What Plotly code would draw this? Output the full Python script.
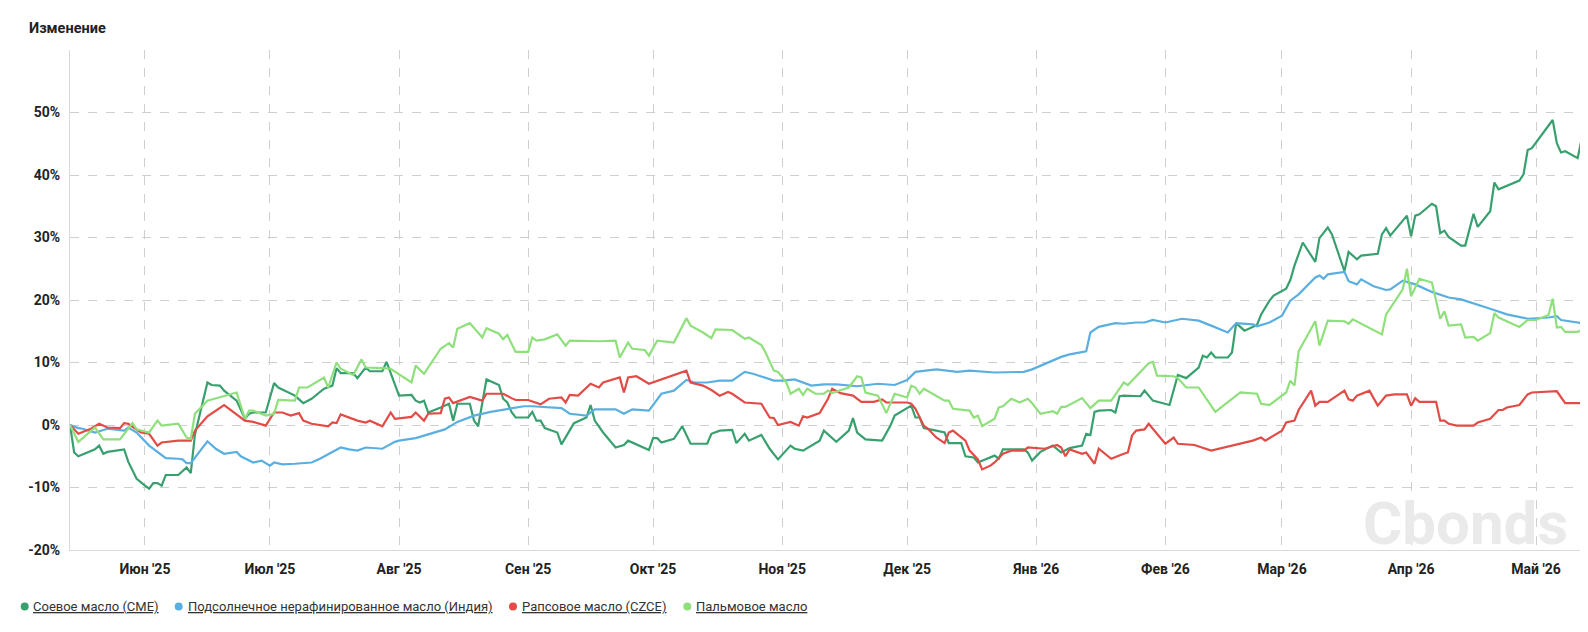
import plotly.graph_objects as go

# ---------------- data ----------------
series_names = ["Соевое масло (CME)", "Подсолнечное нерафинированное масло (Индия)",
                "Рапсовое масло (CZCE)", "Пальмовое масло"]
series_colors = ["#38a06f", "#5aafe0", "#e24b46", "#8fe07c"]

month_ticks = ["2025-06-01", "2025-07-01", "2025-08-01", "2025-09-01", "2025-10-01", "2025-11-01",
               "2025-12-01", "2026-01-01", "2026-02-01", "2026-03-01", "2026-04-01", "2026-05-01"]
month_labels = ["Июн '25", "Июл '25", "Авг '25", "Сен '25", "Окт '25", "Ноя '25",
                "Дек '25", "Янв '26", "Фев '26", "Мар '26", "Апр '26", "Май '26"]
y_ticks = [-20, -10, 0, 10, 20, 30, 40, 50, 60]
y_labels = ["-20%", "-10%", "0%", "10%", "20%", "30%", "40%", "50%", ""]

soy_dates = ["2025-05-14","2025-05-15","2025-05-16","2025-05-19","2025-05-20","2025-05-21","2025-05-22","2025-05-23",
 "2025-05-27","2025-05-28","2025-05-30","2025-06-01","2025-06-02","2025-06-03","2025-06-04","2025-06-05","2025-06-06",
 "2025-06-09","2025-06-11","2025-06-12","2025-06-13","2025-06-16","2025-06-17","2025-06-19","2025-06-20","2025-06-23",
 "2025-06-25","2025-06-26","2025-06-27","2025-06-30","2025-07-02","2025-07-03","2025-07-07","2025-07-09","2025-07-11",
 "2025-07-14","2025-07-16","2025-07-17","2025-07-18","2025-07-21","2025-07-22","2025-07-24","2025-07-25","2025-07-28",
 "2025-07-29","2025-08-01","2025-08-04","2025-08-05","2025-08-06","2025-08-07","2025-08-08","2025-08-11","2025-08-13",
 "2025-08-14","2025-08-15","2025-08-18","2025-08-19","2025-08-20","2025-08-22","2025-08-25","2025-08-26","2025-08-27",
 "2025-08-28","2025-08-29","2025-09-01","2025-09-02","2025-09-03","2025-09-04","2025-09-05","2025-09-08","2025-09-09",
 "2025-09-12","2025-09-15","2025-09-16","2025-09-17","2025-09-19","2025-09-22","2025-09-24","2025-09-25","2025-09-30",
 "2025-10-01","2025-10-02","2025-10-03","2025-10-06","2025-10-08","2025-10-10","2025-10-14","2025-10-15","2025-10-17",
 "2025-10-20","2025-10-21","2025-10-23","2025-10-24","2025-10-27","2025-10-29","2025-10-31","2025-11-03","2025-11-04",
 "2025-11-06","2025-11-10","2025-11-11","2025-11-14","2025-11-17","2025-11-18","2025-11-19","2025-11-21","2025-11-25",
 "2025-11-27","2025-11-28","2025-12-02","2025-12-03","2025-12-04","2025-12-05","2025-12-08","2025-12-10","2025-12-11",
 "2025-12-14","2025-12-15","2025-12-17","2025-12-18","2025-12-22","2025-12-23","2025-12-24","2025-12-29","2025-12-30",
 "2025-12-31","2026-01-02","2026-01-05","2026-01-07","2026-01-09","2026-01-12","2026-01-13","2026-01-14","2026-01-15",
 "2026-01-16","2026-01-19","2026-01-20","2026-01-21","2026-01-22","2026-01-26","2026-01-27","2026-01-29","2026-02-02",
 "2026-02-04","2026-02-06","2026-02-09","2026-02-10","2026-02-11","2026-02-12","2026-02-13","2026-02-16","2026-02-17",
 "2026-02-18","2026-02-20","2026-02-23","2026-02-24","2026-02-26","2026-02-27","2026-03-02","2026-03-03","2026-03-04",
 "2026-03-06","2026-03-09","2026-03-10","2026-03-12","2026-03-13","2026-03-16","2026-03-17","2026-03-19","2026-03-20",
 "2026-03-24","2026-03-25","2026-03-26","2026-03-27","2026-03-31","2026-04-01","2026-04-02","2026-04-03","2026-04-06",
 "2026-04-07","2026-04-08","2026-04-09","2026-04-10","2026-04-13","2026-04-14","2026-04-16","2026-04-17","2026-04-20",
 "2026-04-21","2026-04-22","2026-04-27","2026-04-28","2026-04-29","2026-04-30","2026-05-05","2026-05-06","2026-05-07",
 "2026-05-08","2026-05-11","2026-05-12","2026-05-13"]
soy_vals = [0,-4.4,-5.0,-4.1,-3.9,-3.3,-4.6,-4.3,
 -3.9,-5.9,-8.6,-9.7,-10.2,-9.3,-9.3,-9.7,-8.0,
 -8.0,-6.8,-7.7,-1.5,6.8,6.4,6.3,5.5,3.9,
 1.0,1.8,2.0,2.0,6.7,6.0,4.7,3.5,4.2,
 5.8,6.3,9.1,8.3,8.3,7.5,9.2,8.6,8.6,
 10.1,4.7,4.8,3.9,3.6,3.9,2.0,2.8,3.4,
 0.7,3.4,3.4,0.7,-0.2,7.3,6.4,4.2,3.6,
 2.1,1.2,1.2,2.1,0.7,0.7,-0.5,-1.2,-3.1,
 0.3,1.2,3.2,0.7,-1.2,-3.6,-3.2,-2.5,-4.0,
 -2.1,-2.1,-2.8,-2.2,-0.2,-3.0,-3.0,-1.4,-0.9,
 -0.8,-2.9,-1.4,-2.5,-1.6,-3.8,-5.5,-3.3,-3.8,
 -4.1,-2.5,-0.9,-2.7,-0.9,1.1,-1.2,-2.3,-2.5,
 -0.1,1.5,3.1,1.2,1.2,-0.5,-0.9,-1.2,-2.9,
 -2.9,-5.0,-5.2,-6.0,-4.9,-5.4,-3.9,-3.9,-4.4,
 -5.7,-4.3,-3.3,-4.4,-3.7,-3.3,-1.4,-1.6,2.1,
 2.3,2.4,2.0,4.6,4.7,4.6,5.5,3.9,3.2,
 8.0,7.5,9.2,11.1,10.8,11.6,10.8,10.8,11.6,
 16.3,15.1,16.0,17.7,19.9,20.7,21.8,23.2,25.5,
 29.2,26.1,29.9,31.6,30.5,24.6,27.7,26.5,27.1,
 27.4,30.5,31.5,30.3,33.5,30.2,33.5,33.7,35.4,
 35.0,30.7,31.1,30.1,28.7,28.7,33.8,31.7,34.2,
 38.8,37.7,39.1,40.1,44.0,44.3,48.8,45.1,43.6,
 43.8,42.7,45.9,43.9]

sun_dates = ["2025-05-14","2025-05-16","2025-05-17","2025-05-20","2025-05-23","2025-05-27","2025-05-28","2025-05-30",
 "2025-06-02","2025-06-03","2025-06-06","2025-06-09","2025-06-10","2025-06-11","2025-06-12","2025-06-16","2025-06-18",
 "2025-06-20","2025-06-23","2025-06-24","2025-06-27","2025-06-29","2025-07-01","2025-07-02","2025-07-04","2025-07-07",
 "2025-07-11","2025-07-13","2025-07-16","2025-07-18","2025-07-20","2025-07-22","2025-07-24","2025-07-26","2025-07-28",
 "2025-07-31","2025-08-01","2025-08-05","2025-08-10","2025-08-12","2025-08-15","2025-08-19","2025-08-23","2025-08-27",
 "2025-08-31","2025-09-02","2025-09-09","2025-09-11","2025-09-15","2025-09-17","2025-09-22","2025-09-24","2025-09-26",
 "2025-09-30","2025-10-03","2025-10-06","2025-10-09","2025-10-11","2025-10-14","2025-10-17","2025-10-20","2025-10-23",
 "2025-10-25","2025-10-30","2025-11-01","2025-11-04","2025-11-08","2025-11-11","2025-11-14","2025-11-19","2025-11-24",
 "2025-11-28","2025-12-01","2025-12-03","2025-12-08","2025-12-13","2025-12-16","2025-12-22","2025-12-29","2025-12-31",
 "2026-01-02","2026-01-07","2026-01-09","2026-01-13","2026-01-14","2026-01-16","2026-01-20","2026-01-22","2026-01-25",
 "2026-01-27","2026-01-29","2026-02-01","2026-02-05","2026-02-09","2026-02-12","2026-02-16","2026-02-18","2026-02-22",
 "2026-02-23","2026-02-26","2026-03-01","2026-03-03","2026-03-05","2026-03-07","2026-03-09","2026-03-10","2026-03-11",
 "2026-03-12","2026-03-16","2026-03-17","2026-03-19","2026-03-20","2026-03-23","2026-03-26","2026-03-27","2026-03-30",
 "2026-04-02","2026-04-06","2026-04-10","2026-04-13","2026-04-16","2026-04-20","2026-04-24","2026-04-29","2026-05-04",
 "2026-05-06","2026-05-07","2026-05-12","2026-05-13"]
sun_vals = [0,-0.5,-0.6,-1.2,-0.6,-0.9,-0.4,-1.2,
 -3.3,-3.8,-5.3,-5.4,-5.5,-6.1,-6.1,-2.6,-3.8,
 -4.6,-4.3,-5.0,-6.0,-5.7,-6.5,-6.0,-6.3,-6.2,
 -6.0,-5.4,-4.4,-3.6,-3.9,-4.1,-3.6,-3.7,-3.8,
 -2.7,-2.5,-2.1,-1.1,-0.7,0.5,1.5,2.1,2.6,
 3.0,3.0,2.7,1.8,1.5,2.5,2.5,1.8,2.5,
 2.3,5.0,5.5,7.2,6.8,6.8,7.1,7.1,8.5,
 8.2,7.1,7.1,7.3,6.3,6.5,6.5,6.2,6.6,
 6.4,7.2,8.5,8.9,8.5,8.7,8.4,8.5,8.9,
 9.5,10.9,11.3,11.8,14.8,15.7,16.3,16.2,16.4,
 16.4,16.8,16.4,17.0,16.7,15.9,14.8,16.3,16.1,
 15.8,16.4,17.5,19.9,20.9,22.2,23.6,23.9,23.4,
 24.1,24.5,23.0,22.5,23.3,22.2,21.6,21.7,23.1,
 22.5,21.3,20.4,20.1,19.5,18.6,17.7,17.0,17.2,
 17.4,16.8,16.4,16.2]

rape_dates = ["2025-05-14","2025-05-16","2025-05-19","2025-05-21","2025-05-23","2025-05-26","2025-05-27","2025-05-28",
 "2025-05-31","2025-06-02","2025-06-04","2025-06-05","2025-06-09","2025-06-12","2025-06-13","2025-06-16","2025-06-20",
 "2025-06-25","2025-06-27","2025-06-30","2025-07-02","2025-07-04","2025-07-06","2025-07-08","2025-07-09","2025-07-11",
 "2025-07-15","2025-07-16","2025-07-17","2025-07-18","2025-07-22","2025-07-24","2025-07-25","2025-07-28","2025-07-30",
 "2025-07-31","2025-08-04","2025-08-05","2025-08-07","2025-08-08","2025-08-11","2025-08-12","2025-08-13","2025-08-14",
 "2025-08-18","2025-08-21","2025-08-22","2025-08-26","2025-08-28","2025-08-29","2025-09-01","2025-09-04","2025-09-06",
 "2025-09-09","2025-09-10","2025-09-11","2025-09-13","2025-09-16","2025-09-18","2025-09-19","2025-09-23","2025-09-24",
 "2025-09-25","2025-09-27","2025-09-30","2025-10-09","2025-10-10","2025-10-13","2025-10-15","2025-10-17","2025-10-19",
 "2025-10-20","2025-10-23","2025-10-27","2025-10-29","2025-10-30","2025-10-31","2025-11-03","2025-11-05","2025-11-06",
 "2025-11-07","2025-11-10","2025-11-12","2025-11-13","2025-11-15","2025-11-18","2025-11-20","2025-11-23","2025-11-25",
 "2025-11-26","2025-12-01","2025-12-02","2025-12-03","2025-12-05","2025-12-06","2025-12-08","2025-12-10","2025-12-11",
 "2025-12-12","2025-12-15","2025-12-16","2025-12-18","2025-12-19","2025-12-21","2025-12-22","2025-12-24","2025-12-26",
 "2025-12-29","2025-12-30","2026-01-03","2026-01-06","2026-01-07","2026-01-08","2026-01-09","2026-01-12","2026-01-13",
 "2026-01-15","2026-01-16","2026-01-19","2026-01-21","2026-01-22","2026-01-23","2026-01-24","2026-01-25","2026-01-27",
 "2026-01-28","2026-02-01","2026-02-03","2026-02-04","2026-02-08","2026-02-10","2026-02-12","2026-02-22","2026-02-24",
 "2026-02-25","2026-03-01","2026-03-02","2026-03-04","2026-03-05","2026-03-08","2026-03-09","2026-03-10","2026-03-12",
 "2026-03-16","2026-03-17","2026-03-18","2026-03-19","2026-03-22","2026-03-24","2026-03-26","2026-03-28","2026-03-31",
 "2026-04-01","2026-04-02","2026-04-03","2026-04-07","2026-04-08","2026-04-09","2026-04-10","2026-04-12","2026-04-16",
 "2026-04-17","2026-04-20","2026-04-22","2026-04-23","2026-04-24","2026-04-27","2026-04-29","2026-04-30","2026-05-06",
 "2026-05-08","2026-05-12","2026-05-13"]
rape_vals = [0,-1.4,-0.6,0.2,-0.4,-0.5,0.3,0.2,
 -1.2,-1.4,-3.3,-2.8,-2.5,-2.5,-0.9,1.4,3.2,
 0.7,0.5,-0.1,2.0,2.0,1.5,1.9,0.7,0.2,
 -0.2,0.4,0.3,1.7,0.7,0.4,0.7,-0.2,2.0,
 1.0,1.3,2.0,0.7,1.8,1.9,4.2,4.4,3.5,
 4.5,3.9,5.0,5.0,4.3,4.0,4.0,3.3,4.2,
 4.4,3.6,4.8,4.7,6.6,6.0,6.8,7.6,5.2,
 7.6,7.8,6.6,8.7,6.8,6.3,5.6,4.7,5.3,
 5.0,3.6,3.4,1.2,1.1,0.0,0.5,-0.1,1.4,
 1.2,1.9,4.2,5.8,5.1,4.7,3.7,3.7,4.1,
 3.6,3.6,3.4,2.6,-0.1,-0.6,-2.0,-2.9,-1.2,
 -0.9,-2.5,-4.1,-5.5,-7.1,-6.5,-6.0,-4.6,-4.1,
 -4.1,-3.6,-3.8,-3.2,-3.6,-5.0,-3.9,-4.6,-4.4,
 -6.2,-3.8,-5.4,-4.8,-4.6,-4.4,-1.7,-0.9,-0.7,
 0.2,-3.0,-2.0,-3.0,-3.2,-3.6,-4.1,-2.5,-2.0,
 -2.5,-0.9,0.4,0.7,2.4,5.5,3.1,3.7,3.7,
 5.5,4.1,3.9,4.7,5.5,3.1,4.7,4.9,4.9,
 3.1,4.3,3.7,3.7,0.7,0.7,0.2,-0.1,-0.1,
 0.4,1.0,2.4,2.4,2.8,3.2,4.9,5.2,5.4,
 3.5,3.5,2.5]

palm_dates = ["2025-05-14","2025-05-16","2025-05-20","2025-05-22","2025-05-26","2025-05-29","2025-05-30","2025-06-02",
 "2025-06-04","2025-06-05","2025-06-09","2025-06-11","2025-06-12","2025-06-13","2025-06-16","2025-06-20","2025-06-23",
 "2025-06-25","2025-06-26","2025-06-27","2025-06-30","2025-07-02","2025-07-03","2025-07-07","2025-07-08","2025-07-10",
 "2025-07-14","2025-07-15","2025-07-17","2025-07-18","2025-07-21","2025-07-23","2025-07-24","2025-07-28","2025-07-30",
 "2025-08-04","2025-08-05","2025-08-07","2025-08-11","2025-08-13","2025-08-14","2025-08-15","2025-08-18","2025-08-21",
 "2025-08-22","2025-08-25","2025-08-26","2025-08-27","2025-08-29","2025-09-01","2025-09-02","2025-09-03","2025-09-05",
 "2025-09-08","2025-09-10","2025-09-11","2025-09-18","2025-09-22","2025-09-23","2025-09-25","2025-09-26","2025-09-29",
 "2025-09-30","2025-10-02","2025-10-06","2025-10-09","2025-10-10","2025-10-13","2025-10-15","2025-10-16","2025-10-20",
 "2025-10-23","2025-10-24","2025-10-27","2025-10-28","2025-10-30","2025-10-31","2025-11-02","2025-11-03","2025-11-05",
 "2025-11-06","2025-11-07","2025-11-09","2025-11-11","2025-11-12","2025-11-13","2025-11-17","2025-11-19","2025-11-20",
 "2025-11-21","2025-11-24","2025-11-26","2025-11-27","2025-11-28","2025-12-01","2025-12-02","2025-12-03","2025-12-04",
 "2025-12-05","2025-12-08","2025-12-10","2025-12-11","2025-12-12","2025-12-16","2025-12-17","2025-12-18","2025-12-19",
 "2025-12-22","2025-12-23","2025-12-24","2025-12-26","2025-12-28","2025-12-30","2025-12-31","2026-01-02","2026-01-05",
 "2026-01-06","2026-01-07","2026-01-08","2026-01-12","2026-01-14","2026-01-16","2026-01-19","2026-01-21","2026-01-22",
 "2026-01-23","2026-01-28","2026-01-29","2026-01-30","2026-02-03","2026-02-04","2026-02-06","2026-02-09","2026-02-13",
 "2026-02-19","2026-02-23","2026-02-24","2026-02-26","2026-03-02","2026-03-03","2026-03-04","2026-03-05","2026-03-09",
 "2026-03-10","2026-03-12","2026-03-16","2026-03-17","2026-03-18","2026-03-24","2026-03-25","2026-03-26","2026-03-30",
 "2026-03-31","2026-04-01","2026-04-03","2026-04-06","2026-04-08","2026-04-09","2026-04-10","2026-04-13","2026-04-14",
 "2026-04-16","2026-04-17","2026-04-20","2026-04-21","2026-04-22","2026-04-27","2026-04-29","2026-05-01","2026-05-04",
 "2026-05-05","2026-05-06","2026-05-07","2026-05-08","2026-05-11","2026-05-12","2026-05-13"]
palm_vals = [0,-2.7,-0.4,-2.3,-2.3,0.3,-0.7,-1.2,
 0.7,-0.1,0.2,-2.0,-2.2,1.8,3.9,4.7,5.2,
 1.0,2.3,2.3,1.5,1.8,4.0,3.9,6.0,6.0,
 7.6,6.0,10.0,9.0,8.0,10.5,9.2,9.1,9.0,
 6.8,9.5,8.2,12.2,13.1,12.4,15.4,16.3,14.0,
 15.5,14.6,13.7,14.4,11.7,11.7,14.0,13.5,13.7,
 14.5,12.7,13.5,13.4,13.5,10.8,13.2,12.2,12.0,
 11.1,13.5,13.2,17.1,15.9,14.8,13.9,15.3,15.2,
 13.8,14.0,12.8,11.6,8.7,8.5,6.8,5.0,5.8,
 4.8,5.8,5.0,5.0,5.5,5.1,6.0,7.8,7.6,
 5.2,4.7,1.9,3.4,5.0,4.4,6.3,6.0,5.0,
 5.8,4.7,3.9,3.9,2.6,2.3,1.2,1.5,-0.2,
 1.0,2.8,3.0,4.2,3.6,4.2,3.5,1.8,2.2,
 1.8,2.9,2.9,4.3,2.7,3.9,3.9,5.8,6.8,
 6.4,9.9,10.1,7.9,7.8,7.5,6.0,6.0,2.1,
 5.2,5.0,3.4,3.2,5.2,7.1,6.3,11.8,16.6,
 12.7,16.7,16.6,16.2,16.9,14.8,14.5,17.7,21.7,
 25.0,20.6,23.4,22.8,17.0,18.2,15.9,16.1,14.0,
 14.1,13.5,14.7,17.9,17.2,15.7,16.8,16.8,17.6,
 20.2,15.6,15.7,14.9,14.9,15.2,13.2]

series_dates = [soy_dates, sun_dates, rape_dates, palm_dates]
series_vals = [soy_vals, sun_vals, rape_vals, palm_vals]

# ---------------- layout constants ----------------
W, H = 1588, 632
ML, MR, MT, MB = 62, 10, 42, 90
PW, PH = W - ML - MR, H - MT - MB
FONT = "Roboto, 'Noto Sans', sans-serif"


def px_x(px):
    return (px - ML) / PW


def px_y(py):
    return (H - MB - py) / PH


fig = go.Figure()

for name, color, xs, ys in zip(series_names, series_colors, series_dates, series_vals):
    fig.add_trace(go.Scatter(x=xs, y=ys, mode="lines", line=dict(color=color, width=2.2),
                             name=name, showlegend=False, hoverinfo="x+y+name"))

# custom legend (round markers + underlined names)
legend_marker_px = [16.7, 170.7, 505.0, 679.3]
legend_text_px = [23.0, 177.5, 511.5, 685.5]
legend_y_px = 598.5
shapes = []
annotations = []
for name, color, mx, tx in zip(series_names, series_colors, legend_marker_px, legend_text_px):
    shapes.append(dict(type="circle", xref="paper", yref="paper",
                       xsizemode="pixel", ysizemode="pixel",
                       xanchor=px_x(mx), yanchor=px_y(legend_y_px),
                       x0=-4, x1=4, y0=-4, y1=4,
                       fillcolor=color, line=dict(width=0)))
    annotations.append(dict(text=f"<u>{name}</u>", xref="paper", yref="paper",
                            x=px_x(tx), y=px_y(legend_y_px), xanchor="left", yanchor="middle",
                            showarrow=False, font=dict(size=13, color="#333333", family=FONT)))

annotations.append(dict(text="<b>Изменение</b>", xref="paper", yref="paper",
                        x=px_x(19), y=px_y(21), xanchor="left", yanchor="middle", showarrow=False,
                        font=dict(size=14.5, color="#222222", family="Roboto")))
annotations.append(dict(text="<b>Cbonds</b>", xref="paper", yref="paper",
                        x=px_x(1457), y=px_y(515), xanchor="center", yanchor="middle",
                        showarrow=False, font=dict(size=60, color="#eaeaea", family="Roboto")))

grid_color = "#cfcfcf"
fig.update_layout(
    width=W, height=H,
    margin=dict(l=ML, r=MR, t=MT, b=MB, autoexpand=False),
    plot_bgcolor="white", paper_bgcolor="white",
    font=dict(family=FONT, color="#222222"),
    showlegend=False,
    xaxis=dict(
        type="date", range=["2025-05-14", "2026-05-13"],
        tickvals=month_ticks, ticktext=month_labels,
        showgrid=True, gridcolor=grid_color, griddash="dash", gridwidth=1,
        showline=True, linecolor="#d9d9d9", linewidth=1,
        ticks="", ticklabelstandoff=6, automargin=False,
        tickfont=dict(size=14, color="#222222", family="Roboto", weight="bold"),
        zeroline=False,
    ),
    yaxis=dict(
        range=[-20, 60],
        tickvals=y_ticks, ticktext=y_labels,
        showgrid=True, gridcolor=grid_color, griddash="dash", gridwidth=1,
        showline=True, linecolor="#d9d9d9", linewidth=1,
        ticks="", ticklabelstandoff=6, automargin=False,
        tickfont=dict(size=14, color="#222222", family="Roboto", weight="bold"),
        zeroline=False,
    ),
    shapes=shapes,
    annotations=annotations,
)

fig.write_html("out.html")
